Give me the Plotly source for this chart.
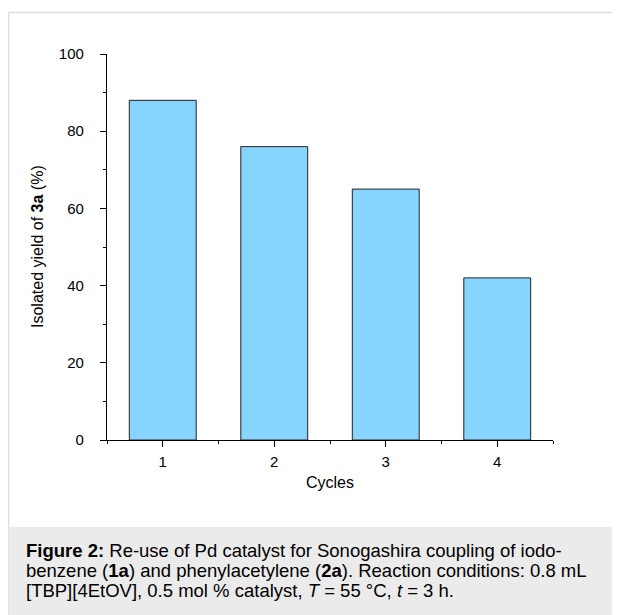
import plotly.graph_objects as go

cycles = [1, 2, 3, 4]
yields = [88, 76, 65, 42]
y_ticks = [0, 20, 40, 60, 80, 100]
x_ticks = [1, 2, 3, 4]
caption_lines = [
    "<b>Figure 2:</b> Re-use of Pd catalyst for Sonogashira coupling of iodo-",
    "benzene (<b>1a</b>) and phenylacetylene (<b>2a</b>). Reaction conditions: 0.8 mL",
    "[TBP][4EtOV], 0.5 mol % catalyst, <i>T</i> = 55 °C, <i>t</i> = 3 h.",
]

# page has an 8px body margin; figure placed so it fills the visible window
OFF = 8
W, H = 612, 607
def px(x):
    return (x - OFF) / W
def py(y):
    return 1 - (y - OFF) / H

FONT = "Liberation Sans, Arial, Helvetica, sans-serif"

fig = go.Figure()
fig.add_trace(go.Bar(
    x=cycles, y=yields, width=0.6,
    marker=dict(color="#87d5fe", line=dict(color="#222222", width=1)),
    showlegend=False,
))

annotations = [
    dict(text="Cycles", xref="paper", yref="paper", x=px(330), y=py(482),
         showarrow=False, font=dict(size=16), xanchor="center", yanchor="middle"),
    dict(text="Isolated yield of <b>3a</b> (%)", xref="paper", yref="paper", x=px(38), y=py(247),
         showarrow=False, font=dict(size=16), textangle=-90, xanchor="center", yanchor="middle"),
]
for i, line in enumerate(caption_lines):
    annotations.append(dict(text=line, xref="paper", yref="paper", x=px(24), y=py(550 + 20 * i),
                            align="left", showarrow=False, font=dict(size=18.5),
                            xanchor="left", yanchor="middle"))

fig.update_layout(
    width=W, height=H,
    margin=dict(l=0, r=0, t=0, b=0, autoexpand=False),
    paper_bgcolor="white", plot_bgcolor="white",
    font=dict(family=FONT, size=15, color="black"),
    xaxis=dict(
        domain=[px(107), px(553)], range=[0.5, 4.5],
        tickvals=x_ticks, ticktext=[str(v) for v in x_ticks],
        showline=True, linecolor="black", linewidth=1.3,
        ticks="outside", ticklen=6, tickwidth=1.3, tickcolor="black",
        minor=dict(tickvals=[0.5, 1.5, 2.5, 3.5, 4.5], ticks="outside", ticklen=3, tickwidth=1.3, tickcolor="black"),
        showgrid=False, zeroline=False, fixedrange=True, automargin=False,
        tickfont=dict(size=15), ticklabelstandoff=2,
    ),
    yaxis=dict(
        domain=[py(440), py(54)], range=[0, 100],
        tickvals=y_ticks,
        showline=True, linecolor="black", linewidth=1.3,
        ticks="outside", ticklen=6, tickwidth=1.3, tickcolor="black",
        minor=dict(tickvals=[10, 30, 50, 70, 90], ticks="outside", ticklen=3, tickwidth=1.3, tickcolor="black"),
        showgrid=False, zeroline=False, fixedrange=True, automargin=False,
        tickfont=dict(size=15), ticklabelstandoff=13,
    ),
    shapes=[
        dict(type="rect", xref="paper", yref="paper", x0=px(8.5), x1=px(640), y0=py(640), y1=py(12.5),
             line=dict(color="#dddddd", width=1.5), fillcolor="rgba(0,0,0,0)", layer="below"),
        dict(type="rect", xref="paper", yref="paper", x0=px(8.5), x1=px(640), y0=py(640), y1=py(527),
             line=dict(width=0), fillcolor="#ebebeb", layer="below"),
    ],
    annotations=annotations,
)

fig.write_html("out.html")
